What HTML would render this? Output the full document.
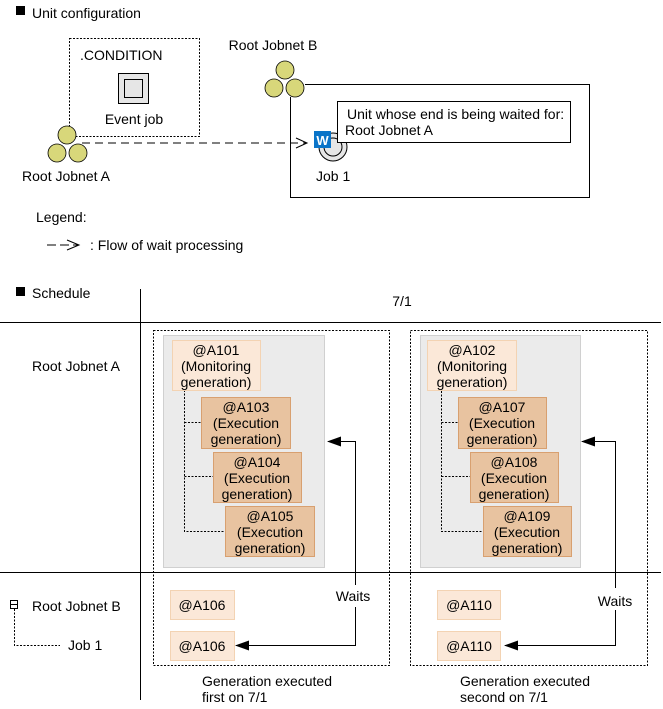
<!DOCTYPE html>
<html><head><meta charset="utf-8"><style>
html,body{margin:0;padding:0;background:#fff}
svg{display:block;font-family:"Liberation Sans",Arial,sans-serif;font-size:14px;fill:#000}
</style></head><body>
<svg width="663" height="709" viewBox="0 0 663 709" xmlns="http://www.w3.org/2000/svg">
<defs>
<marker id="fa" markerWidth="14" markerHeight="10" refX="13" refY="5" orient="auto" markerUnits="userSpaceOnUse"><path d="M0,0 L14,5 L0,10 Z" fill="#000"/></marker>
</defs>
<rect x="16" y="6" width="9" height="9" fill="#000"/>
<text x="32" y="18">Unit configuration</text>
<rect x="69.5" y="38.5" width="130" height="98" fill="none" stroke="#000" stroke-dasharray="2,1.5"/>
<text x="80" y="60">.CONDITION</text>
<rect x="118.5" y="73.5" width="30" height="30" fill="#e6e6e6" stroke="#000"/>
<rect x="124.5" y="79.5" width="18" height="18" fill="#e6e6e6" stroke="#000"/>
<text x="134" y="124" text-anchor="middle">Event job</text>
<line x1="82" y1="143" x2="306" y2="143" stroke="#000" stroke-dasharray="8,5"/>
<path d="M296,138 L307,143 L296,148" fill="none" stroke="#000"/>
<g fill="#d8d77a" stroke="#000" stroke-width="0.8">
<circle cx="67" cy="135" r="9"/><circle cx="57" cy="153" r="9"/><circle cx="78" cy="153" r="9"/>
</g>
<text x="66" y="181" text-anchor="middle">Root Jobnet A</text>
<text x="273" y="50" text-anchor="middle">Root Jobnet B</text>
<path d="M305,84.5 H589.5 V197.5 H290.5 V97" fill="none" stroke="#000"/>
<g fill="#d8d77a" stroke="#000" stroke-width="0.8">
<circle cx="285" cy="70" r="9"/><circle cx="274" cy="88" r="9"/><circle cx="295" cy="88" r="9"/>
</g>
<circle cx="333" cy="147" r="14" fill="#e6e6e6" stroke="#000"/>
<circle cx="333" cy="147" r="9" fill="#e6e6e6" stroke="#000"/>
<rect x="337.5" y="101.5" width="233" height="41" fill="#fff" stroke="#000"/>
<text x="347" y="119">Unit whose end is being waited for:</text>
<text x="345" y="135">Root Jobnet A</text>
<rect x="314" y="131" width="17" height="17" fill="#0a74c8"/>
<text x="322.5" y="145" text-anchor="middle" fill="#fff" font-weight="bold" font-size="13">W</text>
<text x="316" y="181">Job 1</text>
<text x="36" y="222">Legend:</text>
<line x1="47" y1="245" x2="78" y2="245" stroke="#000" stroke-dasharray="9,4"/>
<path d="M67,240 L79,245 L67,250" fill="none" stroke="#000"/>
<text x="90" y="250">: Flow of wait processing</text>
<rect x="16" y="287" width="9" height="9" fill="#000"/>
<text x="32" y="298">Schedule</text>
<line x1="140.5" y1="289" x2="140.5" y2="700" stroke="#000"/>
<line x1="0" y1="322.5" x2="661" y2="322.5" stroke="#000"/>
<line x1="0" y1="572.5" x2="661" y2="572.5" stroke="#000"/>
<text x="402" y="306" text-anchor="middle">7/1</text>
<text x="32" y="371">Root Jobnet A</text>
<text x="32" y="611">Root Jobnet B</text>
<rect x="10.5" y="600.5" width="7" height="8" fill="#fff" stroke="#000"/>
<line x1="11" y1="604.5" x2="17" y2="604.5" stroke="#000"/>
<path d="M14.5,609 V645.5 H60" fill="none" stroke="#000" stroke-dasharray="2,1.5"/>
<text x="68" y="650">Job 1</text>

<rect x="153.5" y="330.5" width="236" height="335" fill="none" stroke="#000" stroke-dasharray="2,1.5"/>
<rect x="163.5" y="335.5" width="161" height="232" fill="#ebebeb" stroke="#d0d0d0"/>
<path d="M184.5,390 V531.5 H225 M184.5,422.5 H201 M184.5,476.5 H213" fill="none" stroke="#000" stroke-dasharray="2,1.5"/>
<rect x="172.5" y="340.5" width="88" height="50" fill="#fbe8d8" stroke="#f3d3b3"/>
<text text-anchor="middle"><tspan x="216" y="355">@A101</tspan><tspan x="216" y="371">(Monitoring</tspan><tspan x="216" y="387">generation)</tspan></text>
<g fill="#e8c3a0" stroke="#d8a070">
<rect x="201.5" y="397.5" width="89" height="51"/><rect x="213.5" y="452.5" width="88" height="50"/><rect x="225.5" y="506.5" width="89" height="50"/>
</g>
<text text-anchor="middle"><tspan x="246" y="412">@A103</tspan><tspan x="246" y="428">(Execution</tspan><tspan x="246" y="444">generation)</tspan></text>
<text text-anchor="middle"><tspan x="257" y="467">@A104</tspan><tspan x="257" y="483">(Execution</tspan><tspan x="257" y="499">generation)</tspan></text>
<text text-anchor="middle"><tspan x="270" y="521">@A105</tspan><tspan x="270" y="537">(Execution</tspan><tspan x="270" y="553">generation)</tspan></text>
<g fill="#fbe8d8" stroke="#f3d3b3">
<rect x="170.5" y="590.5" width="64" height="29"/><rect x="170.5" y="631.5" width="64" height="29"/>
</g>
<text x="202" y="610" text-anchor="middle">@A106</text>
<text x="202" y="651" text-anchor="middle">@A106</text>
<path d="M355.5,585 V441.5 H328" fill="none" stroke="#000" marker-end="url(#fa)"/>
<path d="M355.5,607 V645.5 H236" fill="none" stroke="#000" marker-end="url(#fa)"/>
<text x="353" y="601" text-anchor="middle">Waits</text>
<text x="202" y="686">Generation executed</text>
<text x="202" y="702">first on 7/1</text>

<rect x="410.5" y="330.5" width="237" height="335" fill="none" stroke="#000" stroke-dasharray="2,1.5"/>
<rect x="420.5" y="335.5" width="160" height="232" fill="#ebebeb" stroke="#d0d0d0"/>
<path d="M441.5,391 V531.5 H483 M441.5,422.5 H458 M441.5,476.5 H470" fill="none" stroke="#000" stroke-dasharray="2,1.5"/>
<rect x="427.5" y="340.5" width="89" height="50" fill="#fbe8d8" stroke="#f3d3b3"/>
<text text-anchor="middle"><tspan x="472" y="355">@A102</tspan><tspan x="472" y="371">(Monitoring</tspan><tspan x="472" y="387">generation)</tspan></text>
<g fill="#e8c3a0" stroke="#d8a070">
<rect x="458.5" y="397.5" width="88" height="51"/><rect x="470.5" y="452.5" width="88" height="50"/><rect x="483.5" y="506.5" width="88" height="50"/>
</g>
<text text-anchor="middle"><tspan x="502" y="412">@A107</tspan><tspan x="502" y="428">(Execution</tspan><tspan x="502" y="444">generation)</tspan></text>
<text text-anchor="middle"><tspan x="514" y="467">@A108</tspan><tspan x="514" y="483">(Execution</tspan><tspan x="514" y="499">generation)</tspan></text>
<text text-anchor="middle"><tspan x="527" y="521">@A109</tspan><tspan x="527" y="537">(Execution</tspan><tspan x="527" y="553">generation)</tspan></text>
<g fill="#fbe8d8" stroke="#f3d3b3">
<rect x="437.5" y="590.5" width="63" height="29"/><rect x="437.5" y="631.5" width="63" height="29"/>
</g>
<text x="469" y="610" text-anchor="middle">@A110</text>
<text x="469" y="651" text-anchor="middle">@A110</text>
<path d="M615.5,588 V441.5 H582" fill="none" stroke="#000" marker-end="url(#fa)"/>
<path d="M615.5,610 V645.5 H505" fill="none" stroke="#000" marker-end="url(#fa)"/>
<text x="615" y="606" text-anchor="middle">Waits</text>
<text x="460" y="686">Generation executed</text>
<text x="460" y="702">second on 7/1</text>
</svg>
</body></html>
